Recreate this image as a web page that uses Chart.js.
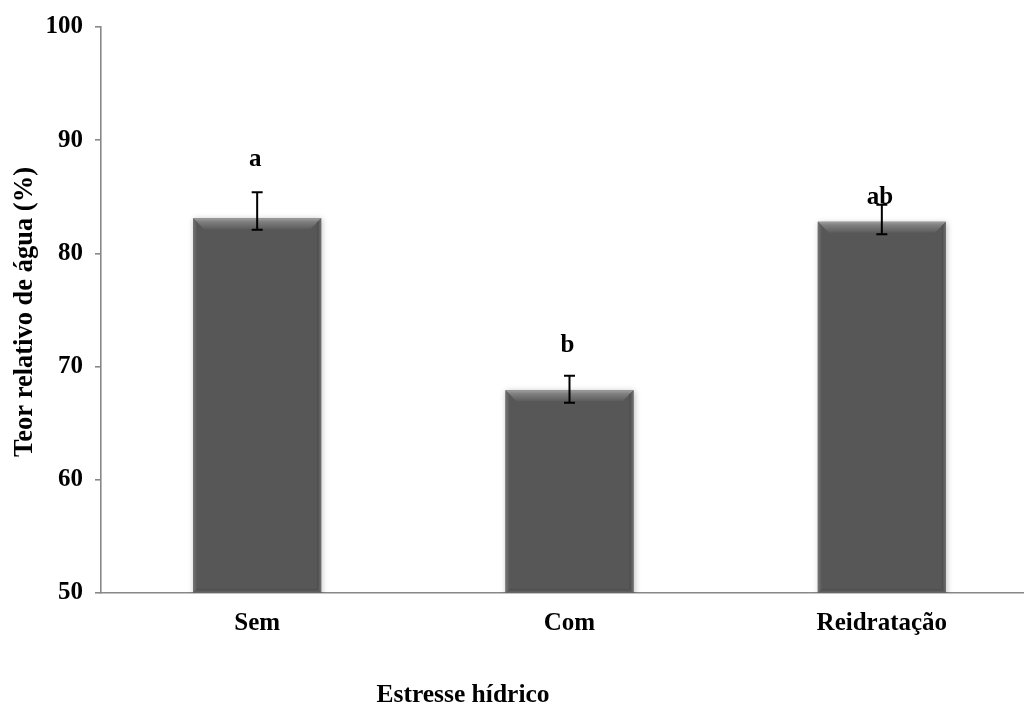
<!DOCTYPE html>
<html>
<head>
<meta charset="utf-8">
<script src="https://cdn.jsdelivr.net/npm/chart.js@4.4.1/dist/chart.umd.min.js"></script>
<style>
  html, body { margin: 0; padding: 0; background: #fff; overflow: hidden; }
  #wrap { width: 1040px; height: 706px; }
</style>
</head>
<body>
<div id="wrap"><canvas id="c" width="1040" height="706"></canvas></div>
<script>
// Teor relativo de água sob estresse hídrico
const categories = ['Sem', 'Com', 'Reidratação'];
const values = [83.1, 67.9, 82.8];
const errPlus = [2.3, 1.3, 1.5];
const errMinus = [1.0, 1.1, 1.1];
const letters = ['a', 'b', 'ab'];
const letterAt = [88.3, 71.9, 84.9];
const yTicks = [50, 60, 70, 80, 90, 100];

const SERIF = '"Liberation Serif", "Times New Roman", serif';

// Bevel, error bars and significance letters drawn over each bar
const barDecor = {
  id: 'barDecor',
  beforeDatasetsDraw(chart) {
    const ctx = chart.ctx;
    ctx.save();
    ctx.shadowColor = 'rgba(0,0,0,0.25)';
    ctx.shadowBlur = 6;
    ctx.shadowOffsetX = 1;
    ctx.shadowOffsetY = 1;
  },
  afterDatasetsDraw(chart) {
    const ctx = chart.ctx;
    ctx.restore();
    const y = chart.scales.y;
    const meta = chart.getDatasetMeta(0);
    meta.data.forEach((bar, i) => {
      const p = bar.getProps(['x', 'y', 'width'], true);
      const w = p.width;
      const l = p.x - w / 2, r = p.x + w / 2;
      const t = p.y, b = y.getPixelForValue(y.min);
      const bv = 11;
      ctx.save();
      // top bevel
      let g = ctx.createLinearGradient(0, t, 0, t + bv);
      g.addColorStop(0, '#a0a0a0');
      g.addColorStop(0.3, '#808080');
      g.addColorStop(1, '#5c5c5c');
      ctx.fillStyle = g;
      ctx.beginPath();
      ctx.moveTo(l, t); ctx.lineTo(r, t); ctx.lineTo(r - bv, t + bv); ctx.lineTo(l + bv, t + bv);
      ctx.closePath(); ctx.fill();
      // left bevel
      g = ctx.createLinearGradient(l, 0, l + 4, 0);
      g.addColorStop(0, '#747474');
      g.addColorStop(1, '#585858');
      ctx.fillStyle = g;
      ctx.beginPath();
      ctx.moveTo(l, t); ctx.lineTo(l + 4, t + 4); ctx.lineTo(l + 4, b - 4); ctx.lineTo(l, b);
      ctx.closePath(); ctx.fill();
      // right bevel
      g = ctx.createLinearGradient(r - 4, 0, r, 0);
      g.addColorStop(0, '#4a4a4a');
      g.addColorStop(1, '#707070');
      ctx.fillStyle = g;
      ctx.beginPath();
      ctx.moveTo(r, t); ctx.lineTo(r - 4, t + 4); ctx.lineTo(r - 4, b - 4); ctx.lineTo(r, b);
      ctx.closePath(); ctx.fill();
      // bottom bevel
      g = ctx.createLinearGradient(0, b - 5, 0, b);
      g.addColorStop(0, '#444444');
      g.addColorStop(1, '#6a6a6a');
      ctx.fillStyle = g;
      ctx.beginPath();
      ctx.moveTo(l, b); ctx.lineTo(r, b); ctx.lineTo(r - 4, b - 4); ctx.lineTo(l + 4, b - 4);
      ctx.closePath(); ctx.fill();
      ctx.restore();

      // error bar
      const yHi = y.getPixelForValue(values[i] + errPlus[i]);
      const yLo = y.getPixelForValue(values[i] - errMinus[i]);
      const cap = 5.5;
      ctx.save();
      ctx.strokeStyle = '#000';
      ctx.lineWidth = 2;
      ctx.beginPath();
      ctx.moveTo(p.x, yHi); ctx.lineTo(p.x, yLo);
      ctx.moveTo(p.x - cap, yHi); ctx.lineTo(p.x + cap, yHi);
      ctx.moveTo(p.x - cap, yLo); ctx.lineTo(p.x + cap, yLo);
      ctx.stroke();
      ctx.restore();

      // significance letter
      ctx.save();
      ctx.fillStyle = '#000';
      ctx.font = 'bold 25px ' + SERIF;
      ctx.textAlign = 'center';
      ctx.textBaseline = 'middle';
      ctx.fillText(letters[i], p.x - 2, y.getPixelForValue(letterAt[i]));
      ctx.restore();
    });
  },
  afterDraw(chart) {
    const ctx = chart.ctx;
    const a = chart.chartArea;
    ctx.save();
    ctx.fillStyle = '#000';
    ctx.textAlign = 'center';
    ctx.textBaseline = 'middle';
    // x axis title
    ctx.font = 'bold 25.5px ' + SERIF;
    ctx.fillText('Estresse hídrico', a.left + 362, a.bottom + 102);
    // y axis title
    ctx.font = 'bold 26.5px ' + SERIF;
    ctx.translate(25, (a.top + a.bottom) / 2 + 2);
    ctx.rotate(-Math.PI / 2);
    ctx.fillText('Teor relativo de água (%)', 0, 0);
    ctx.restore();
  }
};

new Chart(document.getElementById('c'), {
  type: 'bar',
  data: {
    labels: categories,
    datasets: [{
      data: values,
      backgroundColor: '#575757',
      borderWidth: 0,
      barPercentage: 0.41,
      categoryPercentage: 1.0
    }]
  },
  options: {
    responsive: false,
    animation: false,
    devicePixelRatio: 1,
    layout: { padding: { top: 25, right: 2, left: 0, bottom: 0 } },
    plugins: {
      legend: { display: false },
      tooltip: { enabled: false },
      title: { display: false }
    },
    scales: {
      x: {
        offset: true,
        grid: { display: false, drawTicks: false },
        border: { display: true, color: '#888888', width: 1.6 },
        ticks: {
          color: '#000',
          font: { family: SERIF, size: 25, weight: 'bold' },
          padding: 16,
          maxRotation: 0
        },
        afterFit(scale) { scale.height = 113; }
      },
      y: {
        min: 50,
        max: 100,
        afterBuildTicks(scale) { scale.ticks = yTicks.map(v => ({ value: v })); },
        grid: {
          display: true,
          drawOnChartArea: false,
          drawTicks: true,
          tickLength: 6,
          color: '#888888',
          lineWidth: 1.6
        },
        border: { display: true, color: '#888888', width: 1.6 },
        ticks: {
          color: '#000',
          font: { family: SERIF, size: 25, weight: 'bold' },
          padding: 12
        },
        afterFit(scale) { scale.width = 101; }
      }
    }
  },
  plugins: [barDecor]
});
</script>
</body>
</html>
